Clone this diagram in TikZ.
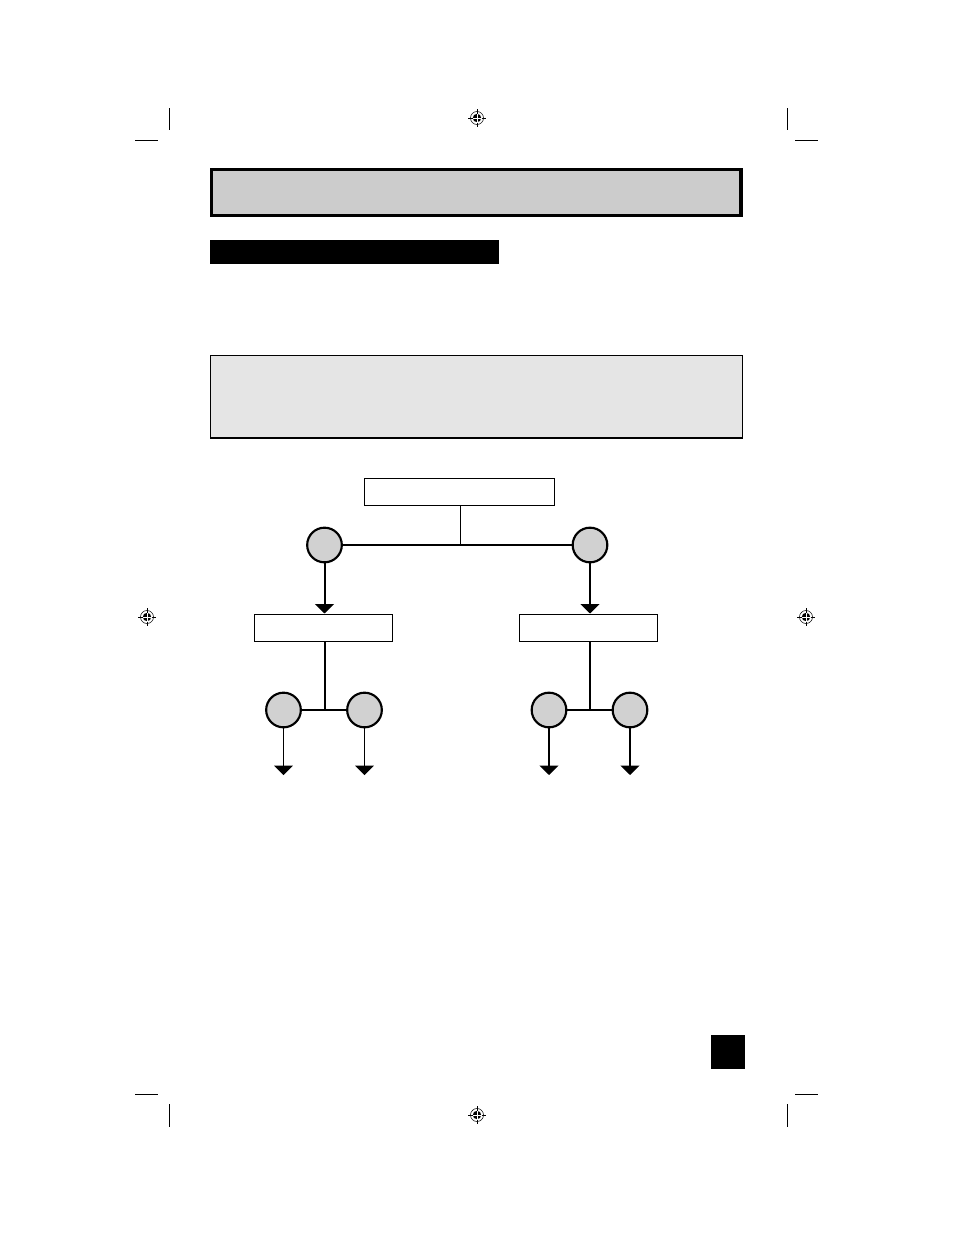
\documentclass[tikz,border=0pt]{standalone}
\usetikzlibrary{arrows.meta}
\begin{document}
\begin{tikzpicture}[x=0.75pt,y=-0.75pt,
  cropmark/.style={line width=0.6pt},
  boxnode/.style={draw,line width=1.1pt,fill=white,minimum width=142.5pt,minimum height=20.5pt,inner sep=0pt,anchor=north west},
  midbox/.style={draw,line width=1.1pt,fill=white,minimum width=103.5pt,minimum height=20.5pt,inner sep=0pt,anchor=north west},
  ball/.style={circle,draw,line width=1.6pt,fill=black!18,minimum size=26pt,inner sep=0pt},
  thickline/.style={line width=1.5pt},
  thinline/.style={line width=0.75pt},
  arr/.style={-{Triangle[length=7pt,width=14pt]}}
]
\useasboundingbox (0,0) rectangle (954,1235);
\fill[white] (0,0) rectangle (954,1235);

% crop marks
\foreach \x/\hx in {169/147,787/807}{
  \draw[cropmark] (\x,108) -- (\x,130);
  \draw[cropmark] (\hx-12,140) -- (\hx+11,140);
  \draw[cropmark] (\x,1104) -- (\x,1127);
  \draw[cropmark] (\hx-12,1094) -- (\hx+11,1094);
}

% registration marks
\foreach \cx/\cy in {477/118,147/617,806/617,477/1115}{
  \draw[line width=0.4pt] (\cx,\cy) circle[radius=6.5];
  \fill (\cx,\cy) circle[radius=4.2];
  \draw[white,line width=0.6pt] (\cx-4.5,\cy) -- (\cx+4.5,\cy) (\cx,\cy-4.5) -- (\cx,\cy+4.5);
  \draw[line width=0.3pt] (\cx-9,\cy) -- (\cx-4.5,\cy) (\cx+4.5,\cy) -- (\cx+9,\cy)
        (\cx,\cy-9) -- (\cx,\cy-4.5) (\cx,\cy+4.5) -- (\cx,\cy+9);
}

% title box
\draw[line width=2.4pt,fill=black!20] (211.5,169.5) rectangle (741,215.5);
% black bar
\fill[black] (210,240) rectangle (499,263.5);
% note box
\draw[line width=1.1pt,fill=black!10] (210.5,355.5) rectangle (742.5,438);

% diagram
\node[boxnode] (top) at (364,477.5) {};
\node[ball] (c1) at (324.5,545) {};
\node[ball] (c2) at (590,545) {};
\node[midbox] (m1) at (254,613.5) {};
\node[midbox] (m2) at (519,613.5) {};
\node[ball] (d1) at (283.5,710) {};
\node[ball] (d2) at (364.5,710) {};
\node[ball] (d3) at (549,710) {};
\node[ball] (d4) at (630,710) {};

\coordinate (j0) at (460.5,545);
\coordinate (j1) at (325,710);
\coordinate (j2) at (589.5,710);
\coordinate (t1) at (283.5,775);
\coordinate (t2) at (364.5,775);
\coordinate (t3) at (549,775);
\coordinate (t4) at (630,775);

\draw[thinline] (top.south -| j0) -- (j0);
\draw[thickline] (c1) -- (c2);
\draw[thickline,arr] (c1.south) -- (m1.north -| c1);
\draw[thickline,arr] (c2.south) -- (m2.north -| c2);
\draw[thickline] (m1.south -| j1) -- (j1);
\draw[thickline] (m2.south -| j2) -- (j2);
\draw[thickline] (d1) -- (d2);
\draw[thickline] (d3) -- (d4);
\draw[thinline,arr] (d1.south) -- (t1);
\draw[thinline,arr] (d2.south) -- (t2);
\draw[thickline,arr] (d3.south) -- (t3);
\draw[thickline,arr] (d4.south) -- (t4);

% page number box
\fill[black] (711,1035) rectangle (745,1069);
\end{tikzpicture}
\end{document}
